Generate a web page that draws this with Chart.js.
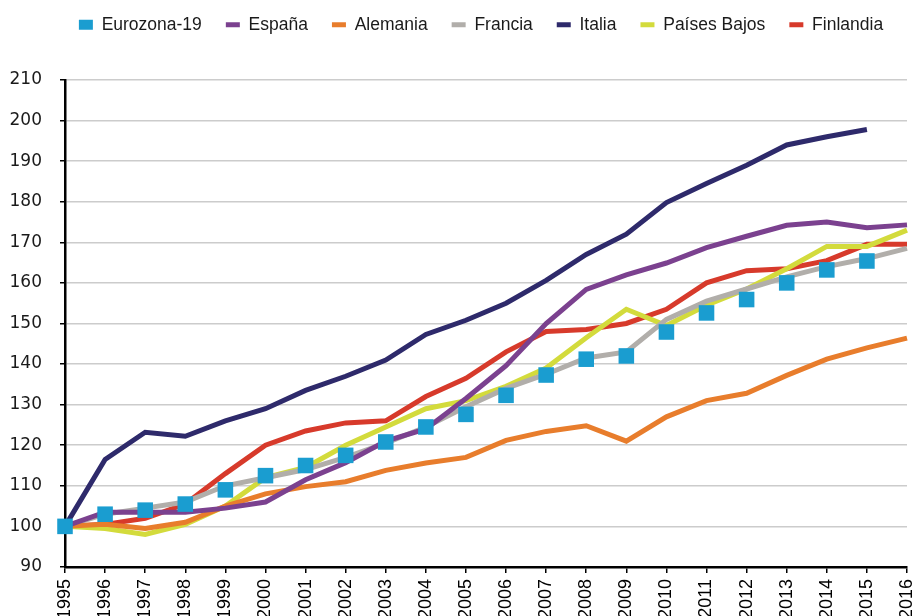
<!DOCTYPE html>
<html>
<head>
<meta charset="utf-8">
<style>
  html, body { margin: 0; padding: 0; background: #fff; overflow: hidden; }
  #wrap { width: 918px; height: 625px; }
</style>
<script src="https://cdn.jsdelivr.net/npm/chart.js"></script>
</head>
<body>
<div id="wrap"><canvas id="lineChart"></canvas></div>
<script>
  // Años (eje X)
  const years = ['1995','1996','1997','1998','1999','2000','2001','2002','2003','2004','2005',
                 '2006','2007','2008','2009','2010','2011','2012','2013','2014','2015','2016'];

  // Series (índice 1995 = 100)
  const eurozona = [100, 103, 104, 105.5, 109, 112.5, 115, 117.5, 120.8, 124.5, 127.6,
                    132.3, 137.3, 141.2, 142, 147.9, 152.6, 155.9, 160, 163.2, 165.4, null];
  const espana = [100, 103.5, 103.5, 103.5, 104.5, 106, 111.5, 115.7, 121, 124, 131.5,
                  139.6, 150, 158.4, 162, 164.9, 168.7, 171.5, 174.2, 175, 173.6, 174.3];
  const alemania = [100, 100.5, 99.5, 101, 105, 108, 109.8, 111, 113.8, 115.6, 117,
                    121.2, 123.4, 124.8, 121, 127, 131, 132.8, 137.2, 141.2, 144, 146.4];
  const francia = [100, 103, 104.5, 106, 110, 112, 114, 117, 120.5, 124.5, 129.5,
                   134, 137.5, 141.5, 143, 151, 155.5, 158.5, 161.5, 164, 166, 168.5];
  const italia = [100, 116.5, 123.2, 122.2, 126, 129, 133.5, 137, 141, 147.3, 150.8,
                  155, 160.6, 167, 172, 179.8, 184.5, 189, 194, 196, 197.8, null];
  const paisesBajos = [100, 99.5, 98, 100.5, 105, 112, 114.5, 120, 124.5, 129, 131,
                       134.5, 139, 146.5, 153.5, 149.5, 154.5, 158.5, 163.5, 169, 169, 173];
  const finlandia = [100, 100.5, 102, 105.5, 113, 120, 123.5, 125.5, 126, 132, 136.5,
                     143, 148, 148.5, 150, 153.5, 160, 163, 163.5, 165.5, 169.5, 169.5];

  const yTicks = { min: 90, max: 210, step: 10 };

  function serie(label, data, color) {
    return {
      label: label,
      data: data,
      borderColor: color,
      backgroundColor: color,
      borderWidth: 5,
      pointRadius: 0,
      pointHoverRadius: 0,
      pointStyle: 'line',
      tension: 0,
      spanGaps: false
    };
  }

  const datasets = [
    {
      label: 'Eurozona-19',
      data: eurozona,
      showLine: false,
      pointStyle: 'rect',
      pointRadius: 11,
      pointHoverRadius: 11,
      backgroundColor: '#1a9dd0',
      borderColor: '#1a9dd0',
      borderWidth: 0
    },
    serie('España', espana, '#7b418f'),
    serie('Alemania', alemania, '#e87d2c'),
    serie('Francia', francia, '#b1aeaa'),
    serie('Italia', italia, '#2e2a6b'),
    serie('Países Bajos', paisesBajos, '#d3db3c'),
    serie('Finlandia', finlandia, '#d73a2b')
  ];

  // Leyenda: reservar 80 px arriba y desplazarla un poco
  const legendBox = {
    id: 'legendBox',
    afterInit(chart) {
      const lg = chart.legend;
      const fit = lg.fit;
      lg.fit = function () { fit.call(this); this.height = 80; };
    },
    afterLayout(chart) {
      const lg = chart.legend;
      lg.left += 22; lg.right += 22;
      lg.top -= 8;
    }
  };

  const ctx = document.getElementById('lineChart').getContext('2d');
  new Chart(ctx, {
    type: 'line',
    data: { labels: years, datasets: datasets },
    plugins: [legendBox],
    options: {
      responsive: true,
      maintainAspectRatio: false,
      animation: false,
      layout: { padding: { left: 0, right: 0, top: 0, bottom: 0 } },
      plugins: {
        tooltip: { enabled: false },
        legend: {
          position: 'top',
          labels: {
            usePointStyle: true,
            boxHeight: 10,
            pointStyleWidth: 14,
            padding: 24,
            color: '#1a1a1a',
            font: { family: 'Liberation Sans', size: 17.5 }
          }
        }
      },
      scales: {
        x: {
          offset: false,
          afterFit: function (scale) { scale.paddingRight = 5; },
          border: { display: true, color: '#000', width: 2.5 },
          grid: { drawOnChartArea: false, tickColor: '#000', tickLength: 6, lineWidth: 1.5 },
          ticks: {
            autoSkip: false,
            minRotation: 90,
            maxRotation: 90,
            padding: 6,
            color: '#000',
            font: { family: 'Liberation Sans', size: 18 }
          }
        },
        y: {
          min: yTicks.min,
          max: yTicks.max,
          afterFit: function (scale) { scale.width = 65; },
          border: { display: true, color: '#000', width: 2.5 },
          grid: { color: '#cccccc', lineWidth: 1.5, tickColor: '#000', tickLength: 5 },
          ticks: {
            stepSize: yTicks.step,
            padding: 18,
            color: '#1a1a1a',
            font: { family: 'DejaVu Sans', size: 17 }
          }
        }
      }
    }
  });
</script>
</body>
</html>
